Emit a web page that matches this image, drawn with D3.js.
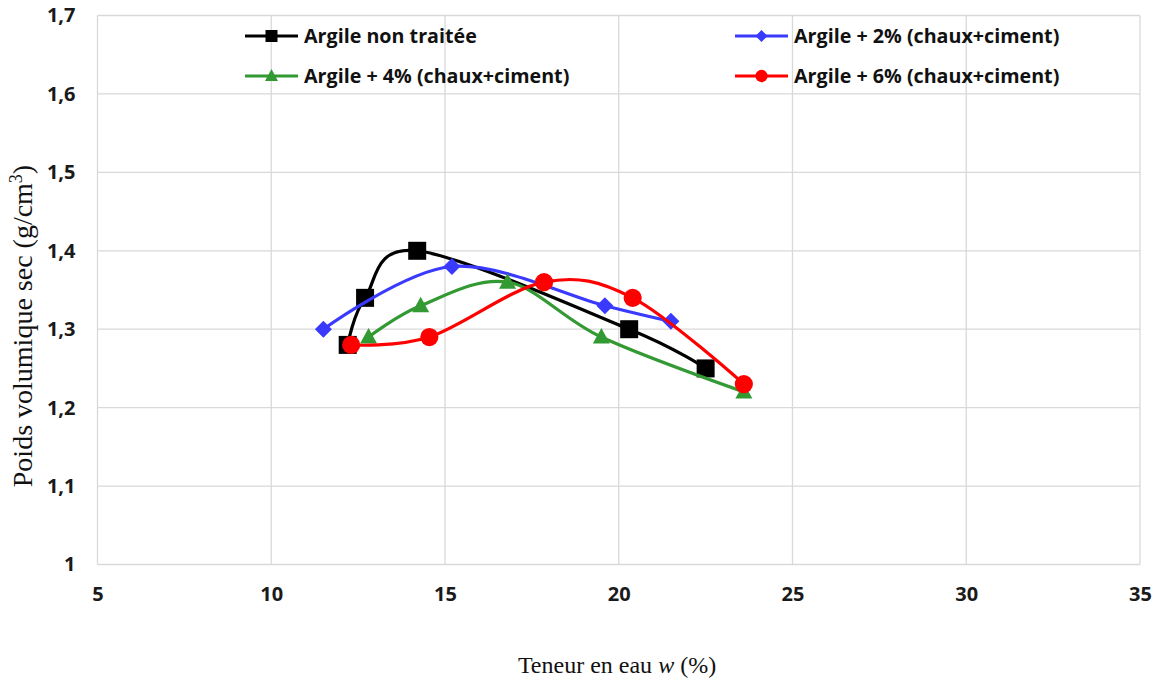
<!DOCTYPE html>
<html>
<head>
<meta charset="utf-8">
<script src="https://cdn.jsdelivr.net/npm/d3@7"></script>
<style>
  body { margin: 0; background: #fff; }
  svg { display: block; }
</style>
</head>
<body>
<svg id="chart" width="1162" height="682"></svg>
<script>
// Compaction curves: water content (%) vs dry density (g/cm3)
const seriesNames = [
  "Argile non traitée",
  "Argile + 2% (chaux+ciment)",
  "Argile + 4% (chaux+ciment)",
  "Argile + 6% (chaux+ciment)"
];
const wUntreated = [12.2, 12.7, 14.2, 20.3, 22.5];
const dUntreated = [1.28, 1.34, 1.40, 1.30, 1.25];
const w2 = [11.5, 15.2, 19.6, 21.5];
const d2 = [1.30, 1.38, 1.33, 1.31];
const w4 = [12.8, 14.3, 16.8, 19.5, 23.6];
const d4 = [1.29, 1.33, 1.36, 1.29, 1.22];
const w6 = [12.3, 14.55, 17.85, 20.4, 23.6];
const d6 = [1.28, 1.29, 1.36, 1.34, 1.23];
const xTicks = [5, 10, 15, 20, 25, 30, 35];
const yTicks = [1, 1.1, 1.2, 1.3, 1.4, 1.5, 1.6, 1.7];

const svg = d3.select("#chart");
const plotL = 97.5, plotR = 1140, plotT = 15.5, plotB = 564.5;

const x = d3.scaleLinear().domain([5, 35]).range([plotL, plotR]);
const y = d3.scaleLinear().domain([1, 1.7]).range([plotB, plotT]);

// grid
const grid = svg.append("g").attr("stroke", "#d9d9d9").attr("stroke-width", 1.3);
grid.selectAll(".gx").data(xTicks).join("line")
  .attr("x1", d => x(d)).attr("x2", d => x(d))
  .attr("y1", plotT).attr("y2", plotB);
grid.selectAll(".gy").data(yTicks).join("line")
  .attr("x1", plotL).attr("x2", plotR)
  .attr("y1", d => y(d)).attr("y2", d => y(d));

// axes (labels only, lines are the grid)
const fmt = d => String(d).replace(".", ",");
const xAxis = svg.append("g").attr("transform", `translate(0,${plotB})`)
  .call(d3.axisBottom(x).tickValues(xTicks).tickFormat(fmt).tickSize(0).tickPadding(22));
const yAxis = svg.append("g").attr("transform", `translate(${plotL},0)`)
  .call(d3.axisLeft(y).tickValues(yTicks).tickFormat(fmt).tickSize(0).tickPadding(22));
[xAxis, yAxis].forEach(a => {
  a.select(".domain").remove();
  a.selectAll("text").attr("font-family", "'Open Sans', sans-serif")
    .attr("font-weight", "bold").attr("font-size", 20).attr("fill", "#1a1a1a");
});

// axis titles
svg.append("text")
  .attr("transform", "translate(32,326) rotate(-90)")
  .attr("text-anchor", "middle")
  .attr("font-family", "'Liberation Serif', 'Times New Roman', serif")
  .attr("font-size", 28).attr("fill", "#111")
  .call(t => {
    t.append("tspan").text("Poids volumique sec (g/cm");
    t.append("tspan").attr("dy", -10).attr("font-size", 18).text("3");
    t.append("tspan").attr("dy", 10).text(")");
  });
svg.append("text")
  .attr("x", 617).attr("y", 673)
  .attr("text-anchor", "middle")
  .attr("font-family", "'Liberation Serif', 'Times New Roman', serif")
  .attr("font-size", 24).attr("fill", "#111")
  .call(t => {
    t.append("tspan").text("Teneur en eau ");
    t.append("tspan").attr("font-style", "italic").text("w");
    t.append("tspan").text(" (%)");
  });

const series = [
  { name: seriesNames[0], w: wUntreated, d: dUntreated, color: "#000000", shape: "square" },
  { name: seriesNames[1], w: w2, d: d2, color: "#3a3aff", shape: "diamond" },
  { name: seriesNames[2], w: w4, d: d4, color: "#339933", shape: "triangle" },
  { name: seriesNames[3], w: w6, d: d6, color: "#ff0000", shape: "circle" }
];

function markerPath(shape) {
  switch (shape) {
    case "square": return "M-9,-9H9V9H-9Z";
    case "diamond": return "M0,-8.5L8.5,0L0,8.5L-8.5,0Z";
    case "triangle": return "M0,-9L8.5,6.5H-8.5Z";
    case "circle": return d3.symbol(d3.symbolCircle, 260)();
  }
}

const line = d3.line().curve(d3.curveCardinal.tension(0));

series.forEach(s => {
  const pts = s.w.map((w, i) => [x(w), y(s.d[i])]);
  svg.append("path").attr("d", line(pts))
    .attr("fill", "none").attr("stroke", s.color).attr("stroke-width", 3.2);
  svg.append("g").selectAll("path").data(pts).join("path")
    .attr("transform", p => `translate(${p[0]},${p[1]})`)
    .attr("d", markerPath(s.shape)).attr("fill", s.color);
});

// legend
const legendPos = [[245, 36], [735, 36], [245, 76], [735, 76]];
series.forEach((s, i) => {
  const [lx, ly] = legendPos[i];
  const g = svg.append("g").attr("transform", `translate(${lx},${ly})`);
  g.append("line").attr("x1", 0).attr("x2", 53).attr("y1", 0).attr("y2", 0)
    .attr("stroke", s.color).attr("stroke-width", 3.2);
  const m = { square: "M-6,-6H6V6H-6Z", diamond: "M0,-6L6,0L0,6L-6,0Z",
              triangle: "M0,-7L6.5,5H-6.5Z", circle: d3.symbol(d3.symbolCircle, 120)() }[s.shape];
  g.append("path").attr("transform", "translate(26.5,0)").attr("d", m).attr("fill", s.color);
  g.append("text").attr("x", 59).attr("y", 7)
    .attr("font-family", "'Open Sans', sans-serif").attr("font-weight", "bold")
    .attr("font-size", 19.7).attr("fill", "#111").text(s.name);
});
</script>
</body>
</html>
